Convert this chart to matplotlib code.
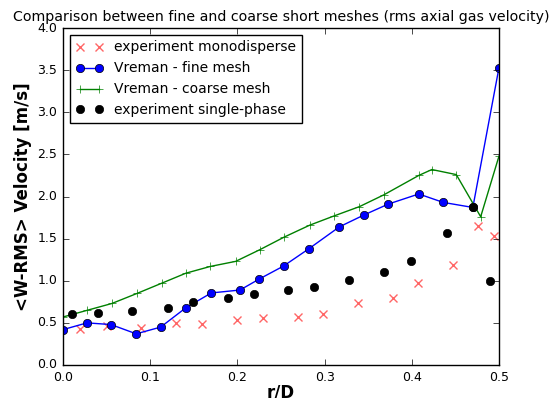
import numpy as np
import matplotlib
matplotlib.use('Agg')
import matplotlib.pyplot as plt

# experiment, monodisperse
r_mono = [0.020, 0.051, 0.090, 0.130, 0.159, 0.199, 0.229, 0.269, 0.298, 0.338,
          0.378, 0.407, 0.447, 0.476, 0.494]
w_mono = [0.43, 0.46, 0.44, 0.50, 0.485, 0.53, 0.56, 0.57, 0.61, 0.73,
          0.80, 0.97, 1.19, 1.65, 1.53]

# Vreman fine mesh
r_fine = [0.0, 0.0275, 0.055, 0.084, 0.112, 0.141, 0.170, 0.203, 0.225, 0.253,
          0.282, 0.317, 0.345, 0.373, 0.408, 0.436, 0.470, 0.5]
w_fine = [0.42, 0.50, 0.48, 0.37, 0.45, 0.68, 0.855, 0.89, 1.02, 1.175,
          1.38, 1.64, 1.78, 1.91, 2.03, 1.93, 1.87, 3.53]

# Vreman coarse mesh
r_coarse = [0.0, 0.028, 0.056, 0.085, 0.113, 0.141, 0.169, 0.198, 0.226, 0.254,
            0.283, 0.311, 0.340, 0.368, 0.408, 0.423, 0.451, 0.479, 0.5]
w_coarse = [0.57, 0.65, 0.73, 0.85, 0.97, 1.09, 1.17, 1.23, 1.37, 1.52,
            1.66, 1.77, 1.88, 2.02, 2.25, 2.32, 2.26, 1.76, 2.48]

# experiment, single-phase
r_single = [0.010, 0.040, 0.079, 0.120, 0.149, 0.189, 0.219, 0.258, 0.288, 0.328,
            0.368, 0.399, 0.440, 0.470, 0.490]
w_single = [0.60, 0.62, 0.64, 0.675, 0.75, 0.79, 0.84, 0.89, 0.92, 1.01,
            1.10, 1.24, 1.57, 1.87, 1.00]

plt.style.use('classic')
plt.rcParams['figure.facecolor'] = 'white'

fig = plt.figure(figsize=(5.55, 3.98), dpi=100)
ax = fig.add_axes([63/555, 1 - 365/398, 436/555, 337/398])

ax.plot(r_mono, w_mono, 'rx', alpha=0.6, markersize=6, mew=1,
        label='experiment monodisperse')
ax.plot(r_fine, w_fine, 'b-o', markersize=6, label='Vreman - fine mesh')
ax.plot(r_coarse, w_coarse, 'g-+', markersize=6, label='Vreman - coarse mesh')
ax.plot(r_single, w_single, 'ko', markersize=6, label='experiment single-phase')

ax.set_xlim(0, 0.5)
ax.set_ylim(0, 4.0)
ax.set_xticks(np.arange(0, 0.51, 0.1))
ax.set_yticks(np.arange(0, 4.01, 0.5))
ax.tick_params(labelsize=9)
ax.set_xlabel('r/D', fontsize=12, fontweight='bold', labelpad=0)
ax.set_ylabel('<W-RMS> Velocity [m/s]', fontsize=12, fontweight='bold', labelpad=4)
ax.set_title('Comparison between fine and coarse short meshes (rms axial gas velocity)',
             fontsize=10.2, pad=5)
ax.legend(loc='upper left', fontsize=10, numpoints=2)

fig.savefig('out.png', dpi=100)
